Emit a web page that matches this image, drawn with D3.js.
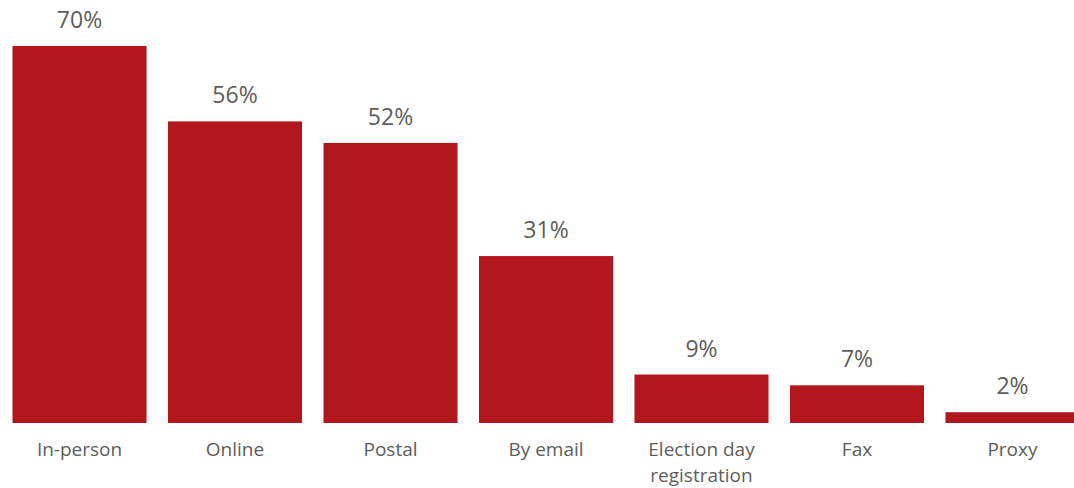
<!DOCTYPE html>
<html>
<head>
<meta charset="utf-8">
<script src="https://cdn.jsdelivr.net/npm/d3@7"></script>
<style>
  body { margin: 0; background: #fff; }
  svg { display: block; }
</style>
</head>
<body>
<div id="container"></div>
<script>
"use strict";

const width = 1074;
const height = 488;

// registration methods and share of respondents
const categories = [["In-person"], ["Online"], ["Postal"], ["By email"],
                    ["Election day", "registration"], ["Fax"], ["Proxy"]];
const values = [70, 56, 52, 31, 9, 7, 2];

const barColor = "#b2171d";
const textColor = "#5d5d59";

const svg = d3.select("#container").append("svg")
    .attr("width", width)
    .attr("height", height);

const x = d3.scaleBand()
    .domain(d3.range(values.length))
    .range([12.5, 1079.5])
    .paddingInner(0.138)
    .paddingOuter(0);

const y = d3.scaleLinear().domain([0, 70]).range([423, 46]);

// bars
svg.selectAll("rect.bar")
    .data(values)
    .enter()
    .append("rect")
    .attr("class", "bar")
    .attr("x", (d, i) => x(i))
    .attr("width", x.bandwidth())
    .attr("y", d => y(d))
    .attr("height", d => y(0) - y(d))
    .style("fill", barColor);

// value labels
svg.selectAll("text.value")
    .data(values)
    .enter()
    .append("text")
    .attr("class", "value")
    .attr("x", (d, i) => x(i) + x.bandwidth() / 2)
    .attr("y", d => y(d) - 18)
    .attr("text-anchor", "middle")
    .style("font-family", "'Open Sans', sans-serif")
    .style("font-size", "23px")
    .style("fill", textColor)
    .text(d => d + "%");

// category labels
const cat = svg.selectAll("text.cat")
    .data(categories)
    .enter()
    .append("text")
    .attr("class", "cat")
    .attr("x", (d, i) => x(i) + x.bandwidth() / 2)
    .attr("y", 456)
    .attr("text-anchor", "middle")
    .style("font-family", "'Open Sans', sans-serif")
    .style("font-size", "19px")
    .style("fill", textColor);

cat.selectAll("tspan")
    .data((d, i) => d.map(t => ({ t: t, i: i })))
    .enter()
    .append("tspan")
    .attr("x", d => x(d.i) + x.bandwidth() / 2)
    .attr("dy", (d, j) => j === 0 ? 0 : 26)
    .text(d => d.t);
</script>
</body>
</html>
